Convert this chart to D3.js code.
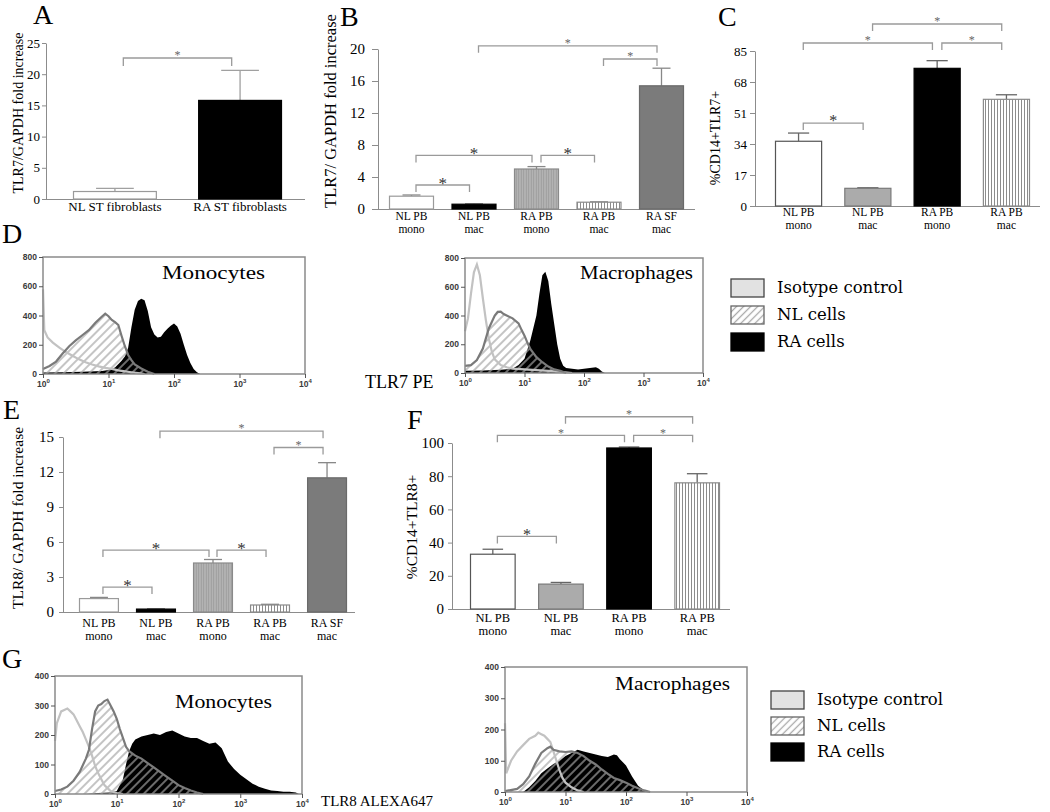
<!DOCTYPE html>
<html><head><meta charset="utf-8">
<script src="https://cdn.jsdelivr.net/npm/d3@7"></script>
<style>body{margin:0;background:#fff} svg{display:block}</style>
</head><body>
<svg id="fig" width="1050" height="812"></svg>
<script>
// ================= DATA =================
const groupsA = ["NL ST fibroblasts", "RA ST fibroblasts"];
const valuesA = [1.2, 15.8];
const errorsA = [1.7, 20.6];
const ticksA = [0, 5, 10, 15, 20, 25];
const sigA = [[0, 1, 22.6]];

const groups5 = [["NL PB", "mono"], ["NL PB", "mac"], ["RA PB", "mono"], ["RA PB", "mac"], ["RA SF", "mac"]];
const groups4 = [["NL PB", "mono"], ["NL PB", "mac"], ["RA PB", "mono"], ["RA PB", "mac"]];

const valuesB = [1.6, 0.6, 5.0, 0.85, 15.4];
const errorsB = [1.75, 0.65, 5.3, 0.9, 17.6];
const ticksB = [0, 4, 8, 12, 16, 20];
const sigB = [[0, 1, 3.0], [0, 2, 6.7], [2, 3, 6.7], [1, 4, 20.4], [3, 4, 18.75]];

const valuesC = [35.5, 9.7, 75.5, 58.5];
const errorsC = [40, 10, 79.7, 61];
const ticksC = [0, 17, 34, 51, 68, 85];
const sigC = [[0, 1, 45.5], [0, 2, 89.4], [2, 3, 89.4], [1, 3, 99.8]];

const valuesE = [1.15, 0.25, 4.2, 0.6, 11.5];
const errorsE = [1.25, 0.28, 4.5, 0.66, 12.8];
const ticksE = [0, 3, 6, 9, 12, 15];
const sigE = [[0, 1, 2.14], [0, 2, 5.31], [2, 3, 5.31], [1, 4, 15.5], [3, 4, 14.1]];

const valuesF = [33, 15, 97, 76];
const errorsF = [36, 16, 97.6, 81.5];
const ticksF = [0, 20, 40, 60, 80, 100];
const sigF = [[0, 1, 43.7], [0, 2, 104.6], [2, 3, 104.6], [1, 3, 115.8]];

// histograms: [log10 intensity, count]
const dMonoIso = [[0,580],[0.02,300],[0.07,250],[0.15,215],[0.25,180],[0.35,150],[0.45,125],[0.55,100],[0.65,80],[0.75,65],[0.85,52],[0.95,42],[1.05,35],[1.15,25],[1.25,18],[1.35,12],[1.45,6],[1.55,0]];
const dMonoNL = [[0,35],[0.1,55],[0.2,85],[0.3,140],[0.4,190],[0.5,230],[0.6,265],[0.7,300],[0.8,350],[0.88,385],[0.95,412],[1.0,395],[1.05,370],[1.1,355],[1.15,335],[1.2,260],[1.25,190],[1.3,130],[1.35,95],[1.4,65],[1.5,38],[1.6,15],[1.7,0]];
const dMonoRA = [[0,10],[0.3,12],[0.6,15],[0.9,20],[1.0,28],[1.1,45],[1.2,90],[1.25,120],[1.3,180],[1.35,320],[1.4,440],[1.45,500],[1.5,515],[1.55,505],[1.6,430],[1.65,320],[1.7,270],[1.75,250],[1.8,255],[1.85,285],[1.9,310],[1.95,330],[2.0,345],[2.05,325],[2.1,275],[2.15,200],[2.2,130],[2.25,75],[2.3,35],[2.35,12],[2.4,0]];

const dMacIso = [[0,290],[0.05,380],[0.1,550],[0.15,700],[0.2,755],[0.25,680],[0.3,520],[0.35,370],[0.4,240],[0.45,150],[0.5,95],[0.6,55],[0.7,40],[0.8,30],[1.0,25],[1.2,20],[1.4,15],[1.6,8],[1.8,0]];
const dMacNL = [[0,50],[0.1,55],[0.2,90],[0.3,170],[0.4,310],[0.5,400],[0.55,425],[0.6,427],[0.65,410],[0.7,400],[0.8,380],[0.9,345],[0.95,300],[1.0,260],[1.05,210],[1.1,165],[1.2,110],[1.3,75],[1.4,45],[1.5,25],[1.6,15],[1.7,0]];
const dMacRA = [[0,15],[0.3,18],[0.6,22],[0.8,30],[0.9,55],[1.0,100],[1.1,230],[1.2,400],[1.25,550],[1.3,680],[1.35,705],[1.4,640],[1.45,480],[1.5,340],[1.55,200],[1.6,100],[1.65,50],[1.7,35],[1.8,30],[1.9,25],[2.0,30],[2.1,35],[2.2,40],[2.25,30],[2.3,10],[2.35,0]];

const gMonoIso = [[0,180],[0.03,240],[0.1,280],[0.15,285],[0.2,290],[0.25,280],[0.3,270],[0.35,250],[0.4,230],[0.45,210],[0.5,185],[0.55,160],[0.6,130],[0.65,95],[0.7,70],[0.75,50],[0.8,30],[0.85,20],[0.9,10],[1.0,3],[1.1,0]];
const gMonoNL = [[0,10],[0.1,15],[0.2,25],[0.3,45],[0.4,75],[0.5,120],[0.55,150],[0.6,220],[0.65,280],[0.7,300],[0.75,305],[0.8,315],[0.85,320],[0.9,300],[0.95,280],[1.0,255],[1.05,220],[1.1,190],[1.15,160],[1.2,145],[1.3,130],[1.4,120],[1.5,105],[1.6,90],[1.7,75],[1.8,60],[1.9,45],[2.0,30],[2.1,20],[2.2,12],[2.3,5],[2.4,0]];
const gMonoRA = [[0.5,0],[0.7,3],[0.9,5],[1.0,10],[1.1,50],[1.15,100],[1.2,145],[1.25,170],[1.3,185],[1.4,195],[1.5,200],[1.6,205],[1.7,200],[1.8,210],[1.9,215],[2.0,205],[2.1,195],[2.2,190],[2.3,190],[2.4,180],[2.5,170],[2.6,175],[2.7,155],[2.8,110],[2.9,85],[3.0,65],[3.1,50],[3.2,35],[3.3,25],[3.4,18],[3.5,12],[3.6,10],[3.7,8],[3.8,8],[3.9,5],[3.95,0]];

const gMacIso = [[0,220],[0.02,60],[0.1,100],[0.2,130],[0.3,150],[0.4,170],[0.5,180],[0.55,190],[0.6,185],[0.65,180],[0.7,170],[0.75,160],[0.8,130],[0.85,100],[0.9,70],[0.95,45],[1.0,30],[1.1,15],[1.2,5],[1.3,0]];
const gMacNL = [[0,3],[0.2,10],[0.3,25],[0.4,50],[0.5,90],[0.6,125],[0.7,140],[0.75,145],[0.8,135],[0.9,130],[1.0,128],[1.1,130],[1.2,125],[1.3,115],[1.4,100],[1.5,88],[1.6,72],[1.7,58],[1.8,45],[1.9,38],[2.0,30],[2.1,20],[2.2,12],[2.3,5],[2.4,0]];
const gMacRA = [[0.3,0],[0.4,15],[0.5,35],[0.6,60],[0.7,75],[0.8,90],[0.9,100],[1.0,115],[1.1,125],[1.2,135],[1.3,130],[1.4,125],[1.5,120],[1.6,115],[1.7,112],[1.8,120],[1.85,118],[1.9,105],[2.0,85],[2.1,50],[2.2,20],[2.3,5],[2.35,0]];

const histYTicksD = [0, 200, 400, 600, 800];
const histYTicksG = [0, 100, 200, 300, 400];
const histXTicks = [1, 10, 100, 1000, 10000];
const legendItems = ["Isotype control", "NL cells", "RA cells"];

// ================= DRAWING =================
const SERIF = "Liberation Serif";
const SANS = "Liberation Sans";
const svg = d3.select("#fig");
svg.append("rect").attr("width", 1050).attr("height", 812).attr("fill", "#fff");
const defs = svg.append("defs");

function stripePattern(id, w, bg, color, sw, rot) {
  const p = defs.append("pattern").attr("id", id).attr("patternUnits", "userSpaceOnUse")
    .attr("width", w).attr("height", w);
  if (rot) p.attr("patternTransform", `rotate(${rot})`);
  if (bg) p.append("rect").attr("width", w).attr("height", w).attr("fill", bg);
  p.append("line").attr("x1", w / 2).attr("x2", w / 2).attr("y1", 0).attr("y2", w)
    .attr("stroke", color).attr("stroke-width", sw);
}
stripePattern("vstripe", 3, "#fff", "#8c8c8c", 1, 0);
stripePattern("graystripe", 2.5, "#b6b6b6", "#9a9a9a", 1, 0);
stripePattern("hatch", 6, null, "#a5a5a5", 1.3, 45);
stripePattern("hatchLegend", 5, "#fff", "#a8a8a8", 1.3, 45);

const styleA = [{ fill: "#fff", stroke: "#9a9a9a" }, { fill: "#000", stroke: "#000" }];
const styleBE = [
  { fill: "#fff", stroke: "#9a9a9a" },
  { fill: "#000", stroke: "#000" },
  { fill: "url(#graystripe)", stroke: "#8a8a8a" },
  { fill: "url(#vstripe)", stroke: "#8a8a8a" },
  { fill: "#7b7b7b", stroke: "#6a6a6a" }];
const styleCF = [
  { fill: "#fff", stroke: "#555" },
  { fill: "#ababab", stroke: "#7a7a7a" },
  { fill: "#000", stroke: "#000" },
  { fill: "url(#vstripe)", stroke: "#8a8a8a" }];

function title(t, x, y) {
  svg.append("text").attr("x", x).attr("y", y).text(t)
    .attr("font-family", SERIF).attr("font-size", 28).attr("fill", "#000");
}

function drawBars(o) {
  const g = svg.append("g");
  const y = d3.scaleLinear().domain([0, o.ymax]).range([o.y0, o.yTop]);
  const x = d3.scaleBand().domain(d3.range(o.values.length)).range(o.band)
    .paddingInner(o.pi).paddingOuter(0);
  const bw = x.bandwidth();
  const cx = i => x(i) + bw / 2;

  const ax = g.append("g").attr("transform", `translate(${o.axisX},0)`)
    .call(d3.axisLeft(y).tickValues(o.ticks).tickSize(o.tickSize).tickPadding(o.tickPad).tickSizeOuter(0));
  ax.select(".domain").attr("stroke", "#8c8c8c");
  ax.selectAll(".tick line").attr("stroke", "#8c8c8c");
  ax.selectAll(".tick text").attr("font-family", SERIF).attr("font-size", o.tickFont).attr("fill", "#000");
  g.append("line").attr("x1", o.axisX).attr("x2", o.axisRight)
    .attr("y1", y(0) + 0.5).attr("y2", y(0) + 0.5).attr("stroke", "#8c8c8c");

  // error bars (behind bars)
  const eg = g.append("g").attr("stroke", o.errColor).attr("stroke-width", 1.3);
  o.values.forEach((v, i) => {
    const e = o.errors[i];
    eg.append("line").attr("x1", cx(i)).attr("x2", cx(i)).attr("y1", y(v)).attr("y2", y(e));
    eg.append("line").attr("x1", cx(i) - bw * o.cap / 2).attr("x2", cx(i) + bw * o.cap / 2)
      .attr("y1", y(e)).attr("y2", y(e));
  });

  g.selectAll("rect.bar").data(o.values).join("rect").attr("class", "bar")
    .attr("x", (d, i) => x(i) + 0.5).attr("y", d => y(d))
    .attr("width", bw - 1).attr("height", d => y(0) - y(d))
    .attr("fill", (d, i) => o.styles[i].fill).attr("stroke", (d, i) => o.styles[i].stroke)
    .attr("stroke-width", 1.2);

  // significance brackets
  const off = bw * 0.1;
  o.sig.forEach((s, k) => {
    const xa = cx(s[0]) + off, xb = cx(s[1]) - off, yy = y(s[2]);
    g.append("path").attr("d", `M${xa},${yy + o.leg}V${yy}H${xb}V${yy + o.leg}`)
      .attr("fill", "none").attr("stroke", "#9a9a9a").attr("stroke-width", 1.3);
    const fs = k < o.bigStars ? o.starBig : o.starSmall;
    g.append("text").attr("x", (xa + xb) / 2).attr("y", yy - 5 + 0.52 * fs)
      .attr("text-anchor", "middle").attr("font-family", SERIF).attr("font-size", fs)
      .attr("fill", k < o.bigStars ? "#333" : "#666").text("*");
  });

  // category labels
  o.labels.forEach((lab, i) => {
    lab.forEach((t, j) => {
      g.append("text").attr("x", cx(i)).attr("y", j === 0 ? o.lab1 : o.lab2)
        .attr("text-anchor", "middle").attr("font-family", SERIF)
        .attr("font-size", o.labFont).attr("fill", "#000").text(t);
    });
  });

  g.append("text").attr("transform", `translate(${o.ylabX},${o.ylabY}) rotate(-90)`)
    .attr("text-anchor", "middle").attr("font-family", SERIF).attr("font-size", o.ylabFont)
    .attr("fill", "#000").text(o.ylabel);
  title(o.title, o.titleX, o.titleY);
}

drawBars({ values: valuesA, errors: errorsA, ymax: 25, ticks: ticksA, y0: 199, yTop: 43,
  axisX: 46, axisRight: 305, band: [73, 282], pi: 0.33, tickSize: 4, tickPad: 2, tickFont: 13,
  styles: styleA, sig: sigA, bigStars: 0, starBig: 16, starSmall: 12, leg: 8, cap: 0.45, errColor: "#a0a0a0",
  labels: groupsA.map(d => [d]), lab1: 211, lab2: 0, labFont: 13,
  ylabel: "TLR7/GAPDH fold increase", ylabX: 23, ylabY: 113, ylabFont: 14,
  title: "A", titleX: 33, titleY: 24 });

drawBars({ values: valuesB, errors: errorsB, ymax: 20, ticks: ticksB, y0: 209, yTop: 49,
  axisX: 378, axisRight: 695, band: [389, 684], pi: 0.28, tickSize: 6, tickPad: 7, tickFont: 15,
  styles: styleBE, sig: sigB, bigStars: 3, starBig: 17, starSmall: 12, leg: 7, cap: 0.4, errColor: "#888",
  labels: groups5, lab1: 220, lab2: 233, labFont: 11.5,
  ylabel: "TLR7/ GAPDH fold increase", ylabX: 336, ylabY: 111, ylabFont: 16.5,
  title: "B", titleX: 340, titleY: 26 });

drawBars({ values: valuesC, errors: errorsC, ymax: 85, ticks: ticksC, y0: 206, yTop: 51,
  axisX: 755, axisRight: 1040, band: [775, 1030], pi: 0.32, tickSize: 5, tickPad: 3, tickFont: 13,
  styles: styleCF, sig: sigC, bigStars: 1, starBig: 16, starSmall: 12, leg: 7, cap: 0.45, errColor: "#666",
  labels: groups4, lab1: 216, lab2: 229, labFont: 11.5,
  ylabel: "%CD14+TLR7+", ylabX: 720, ylabY: 138, ylabFont: 14,
  title: "C", titleX: 718, titleY: 26 });

drawBars({ values: valuesE, errors: errorsE, ymax: 15, ticks: ticksE, y0: 612, yTop: 437,
  axisX: 63, axisRight: 355, band: [79, 347], pi: 0.3, tickSize: 4, tickPad: 5, tickFont: 15,
  styles: styleBE, sig: sigE, bigStars: 3, starBig: 17, starSmall: 12, leg: 7, cap: 0.45, errColor: "#888",
  labels: groups5, lab1: 627, lab2: 640, labFont: 12,
  ylabel: "TLR8/ GAPDH fold increase", ylabX: 23, ylabY: 518, ylabFont: 15.5,
  title: "E", titleX: 3, titleY: 419 });

drawBars({ values: valuesF, errors: errorsF, ymax: 100, ticks: ticksF, y0: 609, yTop: 443,
  axisX: 452, axisRight: 730, band: [470, 720], pi: 0.33, tickSize: 4, tickPad: 4, tickFont: 15,
  styles: styleCF, sig: sigF, bigStars: 1, starBig: 16, starSmall: 12, leg: 7, cap: 0.45, errColor: "#666",
  labels: groups4, lab1: 622, lab2: 635, labFont: 12.5,
  ylabel: "%CD14+TLR8+", ylabX: 417, ylabY: 527, ylabFont: 15.5,
  title: "F", titleX: 407, titleY: 429 });

// ---------- histograms ----------
function drawHist(o) {
  const g = svg.append("g");
  const x = d3.scaleLog().domain([1, 1e4]).range([o.x0, o.x1]);
  const y = d3.scaleLinear().domain([0, o.ymax]).range([o.yBot, o.yTop]);
  const px = d => x(Math.pow(10, d[0]));
  const area = d3.area().x(px).y0(y(0)).y1(d => y(d[1]));
  const line = d3.line().x(px).y(d => y(d[1]));
  g.append("path").datum(o.ra).attr("d", area).attr("fill", "#000");
  g.append("path").datum(o.nl).attr("d", area).attr("fill", "url(#hatch)");
  g.append("path").datum(o.iso).attr("d", line).attr("fill", "none")
    .attr("stroke", "#c2c2c2").attr("stroke-width", 2.2);
  g.append("path").datum(o.nl).attr("d", line).attr("fill", "none")
    .attr("stroke", "#7a7a7a").attr("stroke-width", 2.2);
  g.append("rect").attr("x", o.x0).attr("y", o.yTop).attr("width", o.x1 - o.x0)
    .attr("height", o.yBot - o.yTop).attr("fill", "none").attr("stroke", "#8a8a8a").attr("stroke-width", 1.5);

  const ya = g.append("g").attr("transform", `translate(${o.x0},0)`)
    .call(d3.axisLeft(y).tickValues(o.yticks).tickSize(4).tickPadding(2).tickSizeOuter(0));
  ya.select(".domain").remove();
  ya.selectAll(".tick line").attr("stroke", "#555");
  ya.selectAll(".tick text").attr("font-family", SANS).attr("font-size", 8.5)
    .attr("font-weight", "bold").attr("fill", "#3a3a3a");

  const xa = g.append("g").attr("transform", `translate(0,${o.yBot})`)
    .call(d3.axisBottom(x).tickValues(histXTicks).tickSize(4).tickFormat(""));
  xa.select(".domain").remove();
  xa.selectAll(".tick line").attr("stroke", "#555");
  xa.selectAll(".tick").each(function (v) {
    const t = d3.select(this).append("text").attr("y", 13).attr("text-anchor", "middle")
      .attr("font-family", SANS).attr("font-size", 8.5).attr("font-weight", "bold").attr("fill", "#3a3a3a");
    t.append("tspan").text("10");
    t.append("tspan").attr("dy", -4).attr("font-size", 6).text(Math.round(Math.log10(v)));
  });

  g.append("text").attr("x", o.labX).attr("y", o.labY).attr("font-family", SERIF)
    .attr("font-size", 19).attr("textLength", o.labW).attr("lengthAdjust", "spacingAndGlyphs")
    .attr("fill", "#000").text(o.label);
}

drawHist({ x0: 43, x1: 305, yTop: 257, yBot: 374, ymax: 800, yticks: histYTicksD,
  iso: dMonoIso, nl: dMonoNL, ra: dMonoRA, label: "Monocytes", labX: 162, labY: 279, labW: 103 });
drawHist({ x0: 465, x1: 703, yTop: 258, yBot: 373, ymax: 800, yticks: histYTicksD,
  iso: dMacIso, nl: dMacNL, ra: dMacRA, label: "Macrophages", labX: 580, labY: 279, labW: 113 });
drawHist({ x0: 55, x1: 302, yTop: 676, yBot: 794, ymax: 400, yticks: histYTicksG,
  iso: gMonoIso, nl: gMonoNL, ra: gMonoRA, label: "Monocytes", labX: 175, labY: 708, labW: 97 });
drawHist({ x0: 505, x1: 747, yTop: 667, yBot: 792, ymax: 400, yticks: histYTicksG,
  iso: gMacIso, nl: gMacNL, ra: gMacRA, label: "Macrophages", labX: 615, labY: 690, labW: 115 });

title("D", 2, 243);
title("G", 2, 668);
svg.append("text").attr("x", 365).attr("y", 388).attr("font-family", SERIF).attr("font-size", 18)
  .attr("fill", "#000").text("TLR7 PE");
svg.append("text").attr("x", 321).attr("y", 806).attr("font-family", SERIF).attr("font-size", 15)
  .attr("fill", "#000").text("TLR8 ALEXA647");

// ---------- legends ----------
function drawLegend(x0, y0, gap) {
  const fills = ["#e2e2e2", "url(#hatchLegend)", "#000"];
  const strokes = ["#444", "#666", "#000"];
  legendItems.forEach((t, i) => {
    svg.append("rect").attr("x", x0).attr("y", y0 + i * gap).attr("width", 33).attr("height", 18)
      .attr("fill", fills[i]).attr("stroke", strokes[i]).attr("stroke-width", 1.3);
    svg.append("text").attr("x", x0 + 46).attr("y", y0 + i * gap + 14)
      .attr("font-family", "DejaVu Serif").attr("font-size", 16.5).attr("fill", "#000").text(t);
  });
}
drawLegend(731, 279, 27);
drawLegend(771, 691, 26);
</script>
</body></html>
